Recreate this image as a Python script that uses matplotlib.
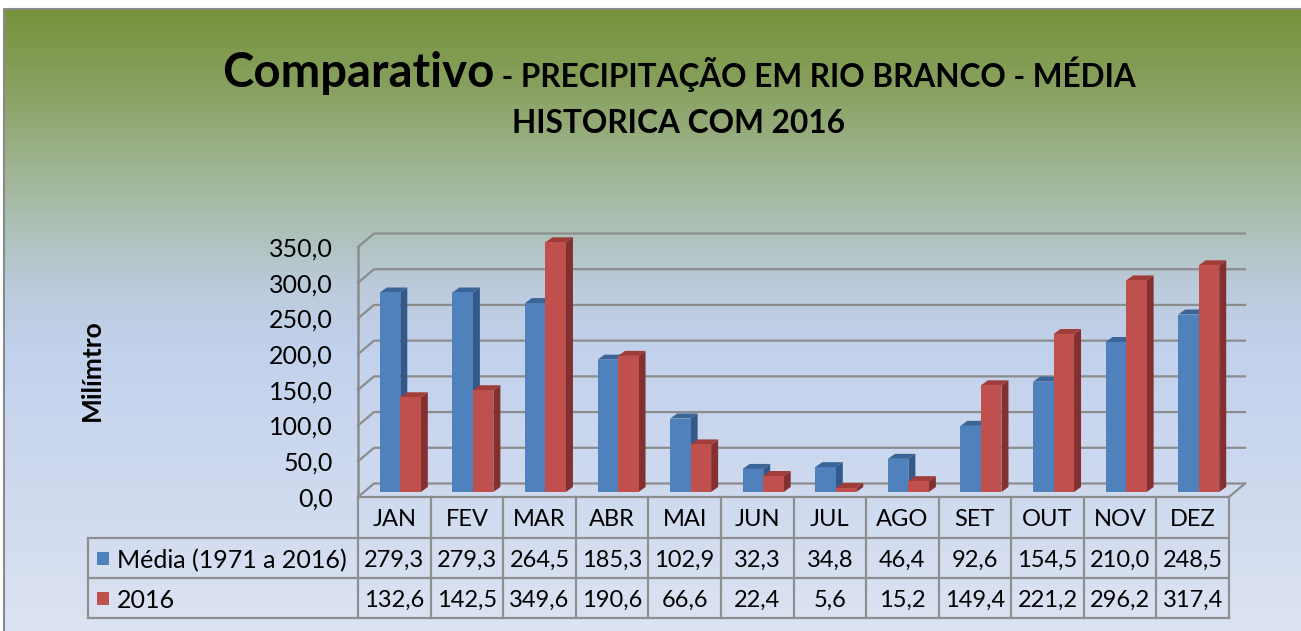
import matplotlib.pyplot as plt
import numpy as np
from matplotlib.patches import Polygon, Rectangle
from matplotlib.colors import LinearSegmentedColormap
from matplotlib.transforms import blended_transform_factory

plt.rcParams['font.family'] = ['Lato', 'DejaVu Sans']

# data
months = ['JAN', 'FEV', 'MAR', 'ABR', 'MAI', 'JUN', 'JUL', 'AGO', 'SET', 'OUT', 'NOV', 'DEZ']
media = [279.3, 279.3, 264.5, 185.3, 102.9, 32.3, 34.8, 46.4, 92.6, 154.5, 210.0, 248.5]
ano_2016 = [132.6, 142.5, 349.6, 190.6, 66.6, 22.4, 5.6, 15.2, 149.4, 221.2, 296.2, 317.4]
series_names = ['Média (1971 a 2016)', '2016']
yticks = [0, 50, 100, 150, 200, 250, 300, 350]

W, H = 1301, 631
fig = plt.figure(figsize=(W / 100, H / 100), dpi=100)

# background gradient
bg = fig.add_axes([0, 0, 1, 1])
bg.set_xlim(0, W)
bg.set_ylim(H, 0)
bg.axis('off')
cmap = LinearSegmentedColormap.from_list('bg', [
    (0.0, '#77933c'), (0.12, '#88a05e'), (0.28, '#a3b89c'),
    (0.45, '#bccbdc'), (0.55, '#c2d1ec'), (1.0, '#dce3f2')])
grad = np.linspace(0, 1, 256).reshape(-1, 1)
bg.imshow(grad, cmap=cmap, aspect='auto', extent=(4, W, H, 9), zorder=0)
bg.plot([4, 4, W], [H, 9, 9], color='#8a8a8a', lw=1.5, zorder=1)

# main axes = front plane of the 3D box
x0, x1, yb, yt = 358, 1229, 497, 247
ax = fig.add_axes([x0 / W, 1 - yb / H, (x1 - x0) / W, (yb - yt) / H])
ax.set_xlim(-0.5, 11.5)
ax.set_ylim(0, 350)
ax.patch.set_alpha(0)
for s in ax.spines.values():
    s.set_visible(False)
ax.set_xticks([])
ax.set_yticks(yticks)
ax.set_yticklabels([f'{v:.1f}'.replace('.', ',') for v in yticks], fontsize=18)
ax.tick_params(axis='y', length=0, pad=18)

px_x = 11.5 - (-0.5)
ux = px_x / (x1 - x0)      # data units per pixel in x
uy = 350 / (yb - yt)       # data units per pixel in y

grid_c = '#8c8c8c'
dxb, dyb = 16 * ux, 13.5 * uy
for v in yticks:
    ax.plot([-0.5, -0.5 + dxb, 11.5 + dxb], [v, v + dyb, v + dyb],
            color=grid_c, lw=1.6, clip_on=False, zorder=1)
ax.plot([-0.5, -0.5], [0, 350], color=grid_c, lw=1.8, clip_on=False, zorder=1)
ax.plot([-0.5, 11.5, 11.5 + dxb], [0, 0, dyb], color=grid_c, lw=1.6, clip_on=False, zorder=1)

# 3D bars
ox, oy = 6 * ux, 5 * uy        # depth position of bars
sx, sy = 7 * ux, 5 * uy        # bar depth
bw = 20.5 * ux
colors = [('#4f81bd', '#3a6596', '#33598a'), ('#c0504d', '#a03d3a', '#823130')]
x = np.arange(len(months))
for k, vals in enumerate([media, ano_2016]):
    front, top, side = colors[k]
    for i, v in enumerate(vals):
        l = x[i] + ox - bw + k * bw
        r = l + bw
        b = oy
        t = oy + v
        z = 3 + i * 2 + k
        ax.add_patch(Polygon([(r, b), (r, t), (r + sx, t + sy), (r + sx, b + sy)],
                             closed=True, fc=side, ec='none', clip_on=False, zorder=z))
        ax.add_patch(Polygon([(l, t), (r, t), (r + sx, t + sy), (l + sx, t + sy)],
                             closed=True, fc=top, ec='none', clip_on=False, zorder=z))
        ax.add_patch(Rectangle((l, b), bw, v, fc=front, ec='none', clip_on=False, zorder=z))

# axis label
fig.text(92 / W, 1 - 370 / H, 'Milímtro', rotation=90, fontsize=19, fontweight='bold',
         ha='center', va='center')

# data table
tr = blended_transform_factory(ax.transData, ax.transAxes)
rows = [0, -41 / 250, -81 / 250, -121 / 250]
xl = -0.5 - (358 - 88) * ux
tc = '#8f8f8f'
for yy in rows[1:]:
    ax.plot([xl, 11.5], [yy, yy], color=tc, lw=1.6, transform=tr, clip_on=False)
ax.plot([xl, xl], [rows[1], rows[3]], color=tc, lw=1.6, transform=tr, clip_on=False)
for j in range(13):
    ax.plot([j - 0.5, j - 0.5], [rows[0], rows[3]], color=tc, lw=1.6, transform=tr, clip_on=False)
for i, m in enumerate(months):
    ax.text(i, (rows[0] + rows[1]) / 2 - 0.01, m, transform=tr, ha='center', va='center', fontsize=17)
    ax.text(i, (rows[1] + rows[2]) / 2 - 0.01, f'{media[i]:.1f}'.replace('.', ','),
            transform=tr, ha='center', va='center', fontsize=17)
    ax.text(i, (rows[2] + rows[3]) / 2 - 0.01, f'{ano_2016[i]:.1f}'.replace('.', ','),
            transform=tr, ha='center', va='center', fontsize=17)
for k, name in enumerate(series_names):
    yc = (rows[1 + k] + rows[2 + k]) / 2
    ax.add_patch(Rectangle((xl + 9 * ux, yc - 6.5 / 250), 12 * ux, 13 / 250, fc=colors[k][0],
                           ec='none', transform=tr, clip_on=False))
    ax.text(xl + 29 * ux, yc - 0.01, name, transform=tr, ha='left', va='center', fontsize=18)

# title (two sizes on first line)
t1 = fig.text(0, 1 - 87 / H, 'Comparativo', fontsize=34, fontweight='bold', va='baseline')
t2 = fig.text(0, 1 - 87 / H, ' - PRECIPITAÇÃO EM RIO BRANCO - MÉDIA', fontsize=22.7,
              fontweight='bold', va='baseline')
fig.text(679 / W, 1 - 133 / H, 'HISTORICA COM 2016', fontsize=22.8, fontweight='bold',
         ha='center', va='baseline')
r = fig.canvas.get_renderer()
w1 = t1.get_window_extent(r).width
w2 = t2.get_window_extent(r).width
start = 679 - (w1 + w2) / 2
t1.set_x(start / W)
t2.set_x((start + w1) / W)

fig.savefig('out.png', dpi=100)
